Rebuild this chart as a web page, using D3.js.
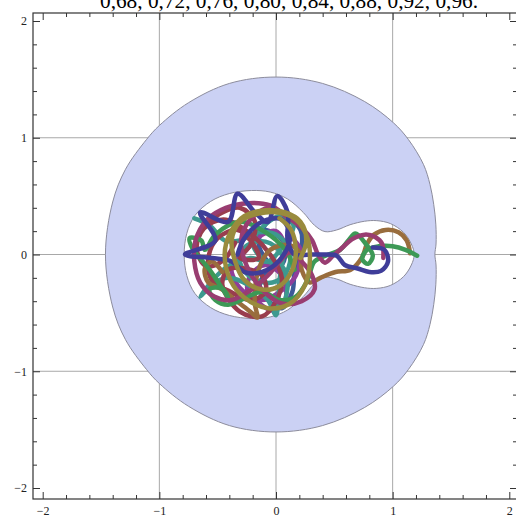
<!DOCTYPE html>
<html>
<head>
<meta charset="utf-8">
<script src="https://cdn.jsdelivr.net/npm/d3@7"></script>
<style>
  body { margin: 0; background: #fff; }
  svg { display: block; }
</style>
</head>
<body>
<svg id="chart" width="516" height="520"></svg>
<script>
"use strict";

// plot label values (the start of the label is cut off above the picture)
const labelValues = ["0,68", "0,72", "0,76", "0,80", "0,84", "0,88", "0,92", "0,96"];

const majorTicks = [-2, -1, 0, 1, 2];
const gridValues = [-1, 0, 1];

// forbidden region: outer boundary and the hole around the two bodies
const outerBoundary = [
  [1.362, 0], [1.372, 0.09], [1.37, 0.26], [1.352, 0.43], [1.32, 0.6], [1.265, 0.77], [1.135, 0.985],
  [1.007, 1.128], [0.76, 1.31], [0.40, 1.465], [0.0, 1.52], [-0.40, 1.465], [-0.75, 1.30],
  [-1.0, 1.105], [-1.11, 0.985], [-1.29, 0.73], [-1.40, 0.45], [-1.462, 0], [-1.40, -0.45],
  [-1.29, -0.73], [-1.11, -0.985], [-1.0, -1.105], [-0.75, -1.30], [-0.40, -1.465], [0.0, -1.52],
  [0.40, -1.465], [0.76, -1.31], [1.007, -1.128], [1.135, -0.985], [1.265, -0.77], [1.32, -0.6],
  [1.352, -0.43], [1.37, -0.26], [1.372, -0.09]
];
const innerBoundary = [
  [1.185, 0], [1.16, 0.09], [1.093, 0.19], [0.98, 0.265], [0.864, 0.29], [0.76, 0.285],
  [0.635, 0.255], [0.52, 0.21], [0.42, 0.196], [0.33, 0.25], [0.234, 0.36], [0.10, 0.475],
  [-0.05, 0.535], [-0.21, 0.548], [-0.40, 0.522], [-0.56, 0.455], [-0.695, 0.334], [-0.765, 0.18],
  [-0.787, 0], [-0.765, -0.18], [-0.695, -0.334], [-0.56, -0.455], [-0.40, -0.522], [-0.21, -0.548],
  [-0.05, -0.535], [0.10, -0.475], [0.234, -0.36], [0.33, -0.25], [0.42, -0.196], [0.52, -0.21],
  [0.635, -0.255], [0.76, -0.285], [0.864, -0.29], [0.98, -0.265], [1.093, -0.19], [1.16, -0.09]
];

// orbits, one per start value
const orbitBlue = [
  [-0.18, 0.23], [-0.03, 0.19], [0.08, 0.08], [0.05, -0.09], [-0.07, -0.15], [-0.14, -0.26],
  [-0.07, -0.39], [0.05, -0.46], [0.14, -0.32], [0.16, -0.13], [0.22, 0.06], [0.21, 0.21],
  [0.10, 0.30], [-0.05, 0.30], [-0.15, 0.10], [-0.08, -0.05]
];
const orbitPurple = [
  [0.12, 0.16], [0.21, 0.04], [0.17, -0.18], [0.06, -0.30], [-0.12, -0.39], [-0.24, -0.32],
  [-0.22, -0.18], [-0.09, -0.09], [0.05, -0.18], [0.08, -0.39], [-0.03, -0.48], [-0.18, -0.39],
  [-0.33, -0.26], [-0.38, -0.09], [-0.27, 0.02], [-0.15, 0.15], [0.0, 0.20], [0.08, 0.05],
  [0.0, -0.10]
];
const orbitTeal = [
  [-0.70, 0.31], [-0.57, 0.25], [-0.44, 0.12], [-0.31, 0.12], [-0.15, 0.19], [0.02, 0.16],
  [0.12, 0.02], [0.09, -0.15], [-0.03, -0.24], [-0.21, -0.20], [-0.31, -0.06], [-0.26, 0.07],
  [-0.09, 0.11], [0.05, 0.0], [0.03, -0.22], [0.02, -0.39], [0.0, -0.52], [-0.07, -0.39],
  [-0.22, -0.27], [-0.41, -0.20], [-0.52, -0.24], [-0.65, -0.36], [-0.44, -0.12], [-0.22, -0.03],
  [-0.07, -0.06], [0.08, 0.10], [0.15, 0.25], [0.05, 0.33], [-0.10, 0.25], [-0.20, 0.10],
  [-0.10, -0.05], [0.05, -0.10], [0.10, -0.25], [0.06, -0.45]
];
const orbitRed = [
  [-0.61, 0.25], [-0.46, 0.36], [-0.31, 0.40], [-0.18, 0.28], [-0.22, 0.08], [-0.31, -0.03],
  [-0.15, -0.03], [-0.22, 0.12], [-0.33, 0.21], [-0.50, 0.14], [-0.58, -0.03], [-0.55, -0.22],
  [-0.39, -0.32], [-0.22, -0.39], [-0.09, -0.32], [-0.12, -0.18], [-0.27, -0.12], [-0.41, -0.13],
  [-0.46, -0.26], [-0.31, -0.49], [-0.12, -0.53], [0.0, -0.40], [0.05, -0.20], [-0.05, 0.0],
  [-0.25, 0.20], [-0.45, 0.30], [-0.62, 0.22], [-0.68, 0.05], [-0.60, -0.10], [-0.45, -0.05],
  [-0.35, 0.10]
];
const orbitBrown = [
  [1.15, 0.01], [1.12, 0.12], [1.05, 0.19], [0.94, 0.21], [0.84, 0.17], [0.78, 0.09],
  [0.74, -0.02], [0.64, -0.13], [0.51, -0.15], [0.38, -0.20], [0.29, -0.24], [0.22, -0.13],
  [0.21, 0.0], [0.12, 0.08], [-0.05, 0.04], [-0.15, -0.13], [-0.18, -0.30], [-0.18, -0.43],
  [-0.16, -0.54], [-0.22, -0.49], [-0.35, -0.39], [-0.46, -0.30], [-0.58, -0.24], [-0.61, -0.12],
  [-0.55, -0.06], [-0.46, -0.15]
];
const orbitGreen = [
  [1.21, -0.01], [1.11, 0.04], [1.00, 0.07], [0.88, 0.07], [0.78, 0.04], [0.74, -0.04],
  [0.79, -0.08], [0.83, -0.01], [0.77, 0.09], [0.68, 0.18], [0.62, 0.12], [0.55, 0.04],
  [0.45, 0.0], [0.33, -0.06], [0.27, -0.22], [0.17, -0.36], [0.03, -0.39], [-0.12, -0.32],
  [-0.41, -0.43], [-0.52, -0.39], [-0.57, -0.30], [-0.46, -0.29], [-0.41, -0.37], [-0.57, -0.13],
  [-0.72, 0.06], [-0.74, 0.14], [-0.64, 0.12], [-0.61, 0.04], [-0.52, 0.17], [-0.31, 0.28],
  [-0.09, 0.19], [0.08, 0.04], [0.16, -0.13]
];
const orbitMagenta = [
  [0.92, -0.03], [0.91, 0.09], [0.85, 0.15], [0.76, 0.17], [0.65, 0.13], [0.57, 0.06],
  [0.49, -0.01], [0.42, -0.07], [0.36, 0.0], [0.31, 0.12], [0.22, 0.23], [0.10, 0.32],
  [-0.05, 0.42], [-0.24, 0.44], [-0.43, 0.40], [-0.59, 0.30], [-0.69, 0.12], [-0.70, -0.06],
  [-0.65, -0.24], [-0.53, -0.36], [-0.38, -0.39], [-0.21, -0.30], [-0.07, -0.18], [0.03, -0.06],
  [0.12, 0.02], [0.22, -0.06], [0.31, -0.18], [0.33, -0.30], [0.22, -0.40], [0.05, -0.42],
  [-0.12, -0.30], [-0.25, -0.10], [-0.30, 0.12], [-0.22, 0.30], [-0.05, 0.40], [0.12, 0.30]
];
const orbitIndigo = [
  [0.83, 0.06], [0.93, 0.04], [0.96, -0.06], [0.90, -0.14], [0.80, -0.15], [0.70, -0.12],
  [0.59, -0.09], [0.52, -0.01], [0.42, 0.0], [0.29, 0.0], [0.16, 0.0], [0.10, 0.12],
  [0.10, 0.36], [0.01, 0.50], [-0.07, 0.28], [-0.18, 0.36], [-0.33, 0.52], [-0.41, 0.28],
  [-0.65, 0.36], [-0.52, 0.12], [-0.78, 0.0], [-0.55, -0.03], [-0.38, -0.06], [-0.27, -0.15],
  [-0.12, -0.15], [0.03, -0.05], [0.12, 0.14], [0.05, 0.30], [-0.12, 0.28], [-0.27, 0.14],
  [-0.33, 0.0]
];
const orbitOlive = [
  [0.21, -0.03], [0.26, 0.12], [0.21, 0.28], [0.08, 0.36], [-0.09, 0.38], [-0.27, 0.33],
  [-0.39, 0.19], [-0.44, 0.0], [-0.39, -0.22], [-0.27, -0.37], [-0.07, -0.46], [0.12, -0.42],
  [0.25, -0.26], [0.29, -0.06], [0.27, 0.14], [0.17, 0.30], [0.02, 0.36], [-0.15, 0.35],
  [-0.31, 0.28], [-0.38, 0.12], [-0.35, -0.06], [-0.27, -0.22], [-0.12, -0.30], [0.03, -0.27],
  [0.14, -0.13], [0.17, 0.04], [0.13, 0.21], [0.03, 0.31]
];

const orbits = [orbitBlue, orbitPurple, orbitTeal, orbitRed, orbitBrown, orbitGreen, orbitMagenta, orbitIndigo, orbitOlive];
const orbitColors = ["#3d5a99", "#903d99", "#3d998f", "#993d4e", "#996d3d", "#3d9956", "#993d71", "#3f3d99", "#998b3d"];

const svg = d3.select("#chart");

const x = d3.scaleLinear().domain([-2, 2]).range([42.7, 509.3]);
const y = d3.scaleLinear().domain([-2, 2]).range([488, 21]);
const frame = { left: 33, right: 517, top: 13, bottom: 499 };

// grid lines
svg.append("g")
    .selectAll("line.gx")
    .data(gridValues)
    .enter()
    .append("line")
    .attr("x1", d => x(d)).attr("x2", d => x(d))
    .attr("y1", frame.top).attr("y2", frame.bottom)
    .style("stroke", "#a8a8a8").style("stroke-width", 1);
svg.append("g")
    .selectAll("line.gy")
    .data(gridValues)
    .enter()
    .append("line")
    .attr("x1", frame.left).attr("x2", frame.right)
    .attr("y1", d => y(d)).attr("y2", d => y(d))
    .style("stroke", "#a8a8a8").style("stroke-width", 1);

// region with its hole
const closedLine = d3.line()
    .x(d => x(d[0]))
    .y(d => y(d[1]))
    .curve(d3.curveCatmullRomClosed.alpha(0.5));

svg.append("path")
    .attr("d", closedLine(outerBoundary) + closedLine(innerBoundary))
    .style("fill", "#cbd1f4")
    .style("fill-rule", "evenodd")
    .style("stroke", "#8c8c9c")
    .style("stroke-width", 1);

// orbits
const orbitLine = d3.line()
    .x(d => x(d[0]))
    .y(d => y(d[1]))
    .curve(d3.curveCatmullRom.alpha(0.5));

svg.append("g")
    .selectAll("path")
    .data(orbits)
    .enter()
    .append("path")
    .attr("d", d => orbitLine(d))
    .style("fill", "none")
    .style("stroke", (d, i) => orbitColors[i])
    .style("stroke-width", 4.5)
    .style("stroke-linejoin", "round")
    .style("stroke-linecap", "round");

// frame and ticks
const minorTicks = d3.range(-2, 2.001, 0.2).filter(v => Math.abs(v - Math.round(v)) > 1e-6);

function styleAxis(g) {
  g.select(".domain").remove();
  g.selectAll(".tick line").style("stroke", "#333").style("stroke-width", 1);
  g.selectAll(".tick text")
      .style("font-family", "'Liberation Serif', serif")
      .style("font-size", "12px")
      .style("fill", "#222");
}

svg.append("g").attr("transform", `translate(0,${frame.bottom})`)
    .call(d3.axisBottom(x).tickValues(majorTicks).tickSize(-7).tickPadding(7).tickFormat(d3.format("d")))
    .call(styleAxis);
svg.append("g").attr("transform", `translate(0,${frame.bottom})`)
    .call(d3.axisBottom(x).tickValues(minorTicks).tickSize(-4).tickFormat(""))
    .call(styleAxis);
svg.append("g").attr("transform", `translate(0,${frame.top})`)
    .call(d3.axisTop(x).tickValues(majorTicks).tickSize(-7).tickFormat(""))
    .call(styleAxis);
svg.append("g").attr("transform", `translate(0,${frame.top})`)
    .call(d3.axisTop(x).tickValues(minorTicks).tickSize(-4).tickFormat(""))
    .call(styleAxis);
svg.append("g").attr("transform", `translate(${frame.left},0)`)
    .call(d3.axisLeft(y).tickValues(majorTicks).tickSize(-7).tickPadding(6).tickFormat(d3.format("d")))
    .call(styleAxis);
svg.append("g").attr("transform", `translate(${frame.left},0)`)
    .call(d3.axisLeft(y).tickValues(minorTicks).tickSize(-4).tickFormat(""))
    .call(styleAxis);
svg.append("g").attr("transform", `translate(${frame.right},0)`)
    .call(d3.axisRight(y).tickValues(majorTicks).tickSize(-7).tickFormat(""))
    .call(styleAxis);
svg.append("g").attr("transform", `translate(${frame.right},0)`)
    .call(d3.axisRight(y).tickValues(minorTicks).tickSize(-4).tickFormat(""))
    .call(styleAxis);

svg.append("rect")
    .attr("x", frame.left)
    .attr("y", frame.top)
    .attr("width", frame.right - frame.left)
    .attr("height", frame.bottom - frame.top)
    .style("fill", "none")
    .style("stroke", "#333")
    .style("stroke-width", 1.2);

// plot label, cut by the top edge as in the original
svg.append("text")
    .attr("x", 289)
    .attr("y", 7.5)
    .attr("text-anchor", "middle")
    .style("font-family", "'Liberation Serif', serif")
    .style("font-size", "21.3px")
    .style("fill", "#000")
    .text(labelValues.join(", ") + ".");
</script>
</body>
</html>
